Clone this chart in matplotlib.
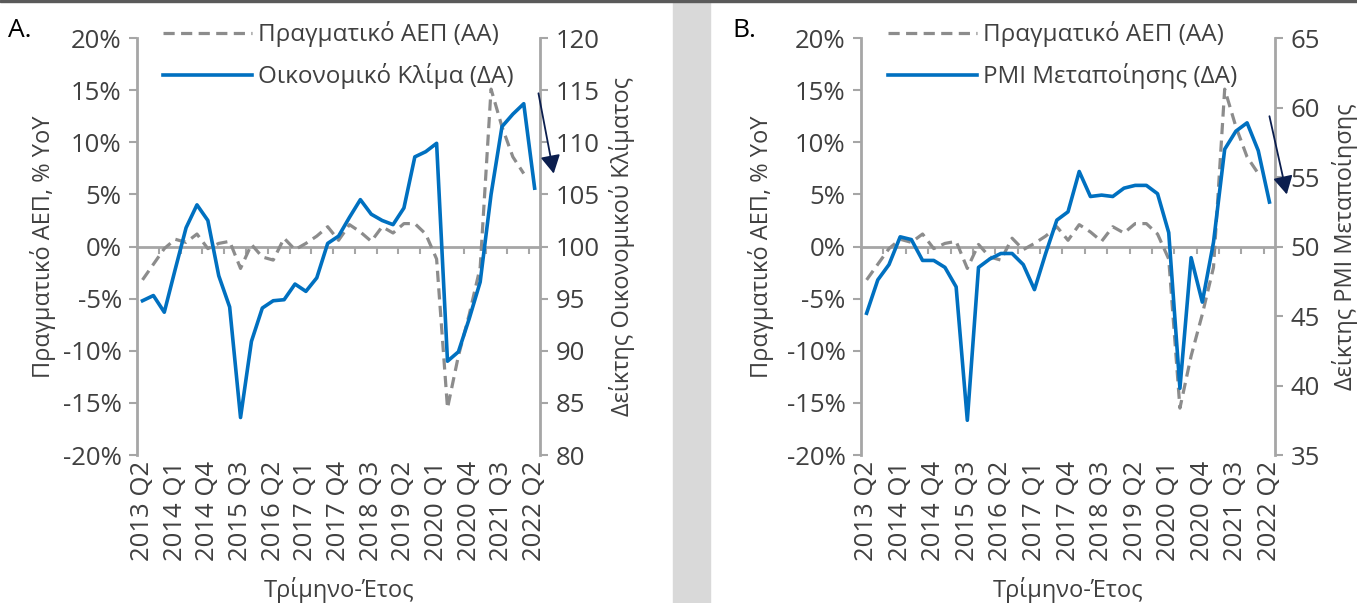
import numpy as np
import matplotlib.pyplot as plt
from matplotlib.patches import Rectangle
from matplotlib.ticker import FuncFormatter

plt.rcParams['font.family'] = ['Open Sans', 'DejaVu Sans']

# Quarterly data, 2013 Q2 .. 2022 Q2
tick_labels = ['2013 Q2', '2014 Q1', '2014 Q4', '2015 Q3', '2016 Q2', '2017 Q1', '2017 Q4',
               '2018 Q3', '2019 Q2', '2020 Q1', '2020 Q4', '2021 Q3', '2022 Q2']

# Real GDP, % YoY (2022 Q2 not available)
gdp = [-3.2, -1.7, -0.2, 0.7, 0.4, 1.2, -0.2, 0.3, 0.5, -2.1,
       0.2, -1.0, -1.3, 0.8, -0.3, 0.3, 1.0, 1.9, 0.6, 2.1,
       1.4, 0.5, 1.9, 1.3, 2.2, 2.2, 1.2, -1.2, -15.5, -10.5,
       -6.5, -2.0, 15.1, 11.5, 8.6, 7.0, np.nan]

# Economic sentiment indicator
climate = [94.8, 95.3, 93.7, 97.8, 101.8, 104.0, 102.5, 97.2, 94.2, 83.6,
           90.9, 94.1, 94.8, 94.9, 96.4, 95.7, 97.0, 100.3, 101.0, 102.8,
           104.5, 103.1, 102.5, 102.1, 103.7, 108.6, 109.1, 109.9, 89.0, 89.9,
           93.1, 96.6, 105.0, 111.5, 112.7, 113.7, 105.6]

# Manufacturing PMI
pmi = [45.2, 47.6, 48.7, 50.7, 50.5, 49.0, 49.0, 48.5, 47.1, 37.5,
       48.5, 49.1, 49.5, 49.5, 48.7, 46.9, 49.5, 51.9, 52.5, 55.4,
       53.6, 53.7, 53.6, 54.2, 54.4, 54.4, 53.8, 51.0, 39.8, 49.2,
       46.0, 50.3, 57.0, 58.3, 58.9, 56.9, 53.2]

blue = '#0070C0'
dgray = '#8C8C8C'
agray = '#A6A6A6'
tcol = '#404040'
navy = '#0B1E4E'
TFS = 18.5   # tick labels
LFS = 17     # axis labels
GFS = 17.5   # legend

fig = plt.figure(figsize=(13.57, 6.03), dpi=100)

# grey separator and top border
fig.patches.append(Rectangle((0.496, 0), 0.027, 0.996, transform=fig.transFigure,
                             color='#D9D9D9', zorder=0))
fig.patches.append(Rectangle((0, 0.996), 1, 0.004, transform=fig.transFigure,
                             color='#5A5A5A', zorder=0))


def panel(rect, vals, ylim2, yticks2, ylabel2, name2, letter, letter_x, arrow, lab_x):
    x = np.arange(len(gdp))
    ax = fig.add_axes(rect)
    ax2 = ax.twinx()

    ax.plot(x, gdp, color=dgray, lw=2.3, dashes=(3.5, 2), label='Πραγματικό ΑΕΠ (ΑΑ)')
    ax2.plot(x, vals, color=blue, lw=2.6, label=name2)

    ax.set_xlim(-0.5, len(x) - 0.5)
    ax.set_ylim(-20, 20)
    ax.set_yticks(np.arange(-20, 21, 5))
    ax.yaxis.set_major_formatter(FuncFormatter(lambda v, p: '%d%%' % v))
    ax2.set_ylim(*ylim2)
    ax2.set_yticks(yticks2)

    ax.set_xticks(np.arange(0, len(x), 3))
    ax.set_xticklabels(tick_labels, rotation=90)
    ax.tick_params(axis='x', length=0, pad=4, labelsize=TFS, labelcolor=tcol)
    ax.tick_params(axis='y', length=6, width=1.5, pad=5, color=agray, labelsize=TFS, labelcolor=tcol)
    ax2.tick_params(axis='y', length=6, width=1.5, pad=5, color=agray, labelsize=TFS, labelcolor=tcol)

    for s in ['top', 'bottom', 'right']:
        ax.spines[s].set_visible(False)
    for s in ['top', 'bottom', 'left']:
        ax2.spines[s].set_visible(False)
    ax.spines['left'].set_color(agray)
    ax.spines['left'].set_linewidth(2)
    ax2.spines['right'].set_color(agray)
    ax2.spines['right'].set_linewidth(2)

    # zero line with small ticks
    sec = ax.secondary_xaxis(0.5)
    sec.set_alignment('bottom')
    sec.set_xticks(np.arange(1.5, len(x) - 1, 2))
    sec.tick_params(axis='x', length=5, width=1.5, color=agray, labelbottom=False)
    sec.spines['bottom'].set_color(agray)
    sec.spines['bottom'].set_linewidth(2)

    ax.set_ylabel('Πραγματικό ΑΕΠ, % YoY', fontsize=LFS, color=tcol)
    ax.yaxis.set_label_coords(lab_x[0], 0.5)
    ax2.set_ylabel(ylabel2, fontsize=LFS, color=tcol)
    ax2.yaxis.set_label_coords(lab_x[1], 0.5)
    ax.set_xlabel('Τρίμηνο-Έτος', fontsize=LFS, color=tcol)
    ax.xaxis.set_label_coords(0.5, -0.292)

    h1, l1 = ax.get_legend_handles_labels()
    h2, l2 = ax2.get_legend_handles_labels()
    leg = ax2.legend(h1 + h2, l1 + l2, loc='upper left', bbox_to_anchor=(0.065, 1.04),
                     frameon=False, fontsize=GFS, handlelength=3.65, handletextpad=0.25,
                     labelspacing=0.65, borderpad=0, borderaxespad=0)
    for t in leg.get_texts():
        t.set_color(tcol)

    ax2.annotate('', xy=arrow[1], xytext=arrow[0], xycoords=ax.transData,
                 textcoords=ax.transData, annotation_clip=False,
                 arrowprops=dict(arrowstyle='-|>,head_length=0.55,head_width=0.3',
                                 mutation_scale=20, color=navy, lw=1.3, shrinkA=0, shrinkB=0))

    fig.text(letter_x, 0.95, letter, fontsize=19, color='black', va='center')


panel([0.101, 0.2454, 0.297, 0.6915], climate, (80, 120), np.arange(80, 121, 5),
      'Δείκτης Οικονομικού Κλίματος', 'Οικονομικό Κλίμα (ΔΑ)', 'A.', 0.006,
      [(36.35, 14.7), (37.75, 7.0)], (-0.20, 1.171))

panel([0.6345, 0.2454, 0.3051, 0.6915], pmi, (35, 65), np.arange(35, 66, 5),
      'Δείκτης PMI Μεταποίησης', 'PMI Μεταποίησης (ΔΑ)', 'B.', 0.540,
      [(36.0, 12.5), (37.55, 5.0)], (-0.21, 1.138))

plt.savefig('out.png', dpi=100)
